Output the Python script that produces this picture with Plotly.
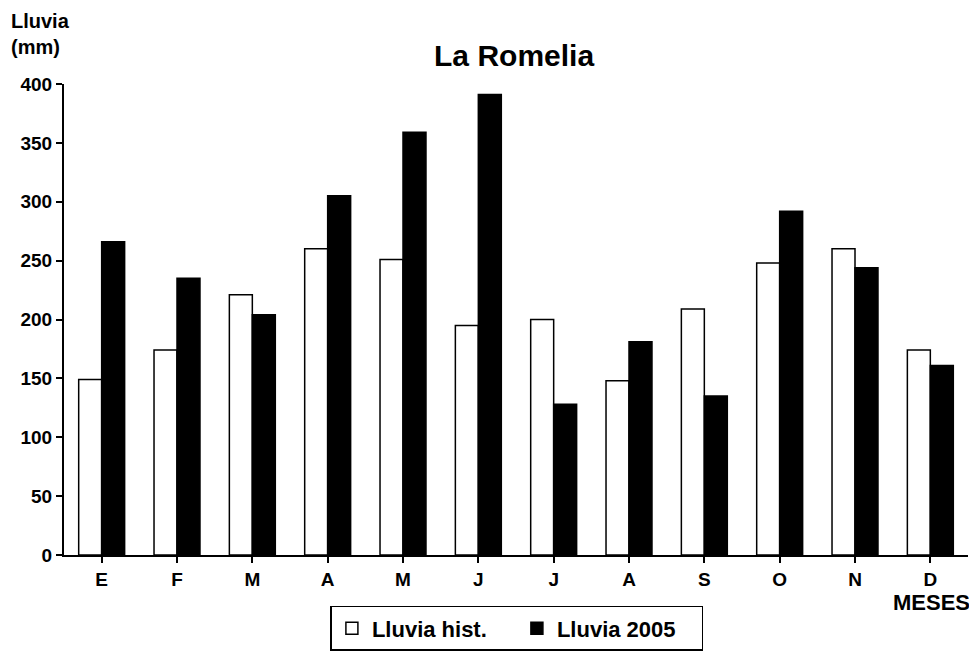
import plotly.graph_objects as go

meses = ["E", "F", "M", "A", "M", "J", "J", "A", "S", "O", "N", "D"]
lluvia_hist = [149, 174, 221, 260, 251, 195, 200, 148, 209, 248, 260, 174]
lluvia_2005 = [266, 235, 204, 305, 359, 391, 128, 181, 135, 292, 244, 161]
y_ticks = [0, 50, 100, 150, 200, 250, 300, 350, 400]

x_idx = list(range(len(meses)))
FONT = "Arial, Liberation Sans, sans-serif"

fig = go.Figure()
fig.add_trace(go.Bar(x=x_idx, y=lluvia_hist, name="<b>Lluvia hist.</b>",
                     marker=dict(color="white", line=dict(color="black", width=1.5))))
fig.add_trace(go.Bar(x=x_idx, y=lluvia_2005, name="<b>Lluvia 2005</b>",
                     marker=dict(color="black", line=dict(color="black", width=1.5))))

fig.update_layout(
    width=977, height=656,
    paper_bgcolor="white", plot_bgcolor="white",
    margin=dict(l=56, r=17, t=76, b=109, autoexpand=False),
    barmode="group", bargap=0.39, bargroupgap=0,
    font=dict(family=FONT, color="black"),
    title=dict(text="<b>La Romelia</b>", x=0.518, xanchor="center", y=0.927, yanchor="middle",
               font=dict(size=30, family=FONT, color="black")),
    showlegend=True,
    legend=dict(orientation="h", x=0.501, xanchor="center", yref="container", y=0.02,
                yanchor="bottom", bordercolor="black", borderwidth=1.5,
                font=dict(size=22, family=FONT, color="black"),
                itemwidth=30, entrywidth=140, tracegroupgap=0),
    xaxis=dict(tickmode="array", tickvals=x_idx, ticktext=["<b>%s</b>" % m for m in meses],
               range=[-0.5, 11.5], tickson="boundaries", ticks="outside", ticklen=6,
               tickwidth=1.5, tickcolor="black", showline=True, linecolor="black",
               linewidth=2, showgrid=False, zeroline=False, automargin=False,
               tickfont=dict(size=19, family=FONT, color="black")),
    yaxis=dict(range=[0, 400], tickvals=y_ticks, ticktext=["<b>%d</b>" % v for v in y_ticks],
               ticks="outside", ticklen=6, tickwidth=1.5, tickcolor="black",
               showline=True, linecolor="black", linewidth=2, showgrid=False,
               zeroline=False, automargin=False,
               tickfont=dict(size=19, family=FONT, color="black")),
    annotations=[
        dict(text="<b>Lluvia<br>(mm)</b>", xref="paper", yref="paper", x=-0.061, y=1.162,
             xanchor="left", yanchor="top", showarrow=False, align="left",
             font=dict(size=20, family=FONT, color="black")),
        dict(text="<b>MESES</b>", xref="paper", yref="paper", x=1.004, y=-0.1,
             xanchor="right", yanchor="middle", showarrow=False,
             font=dict(size=22, family=FONT, color="black")),
    ],
)

fig.write_html("out.html")
